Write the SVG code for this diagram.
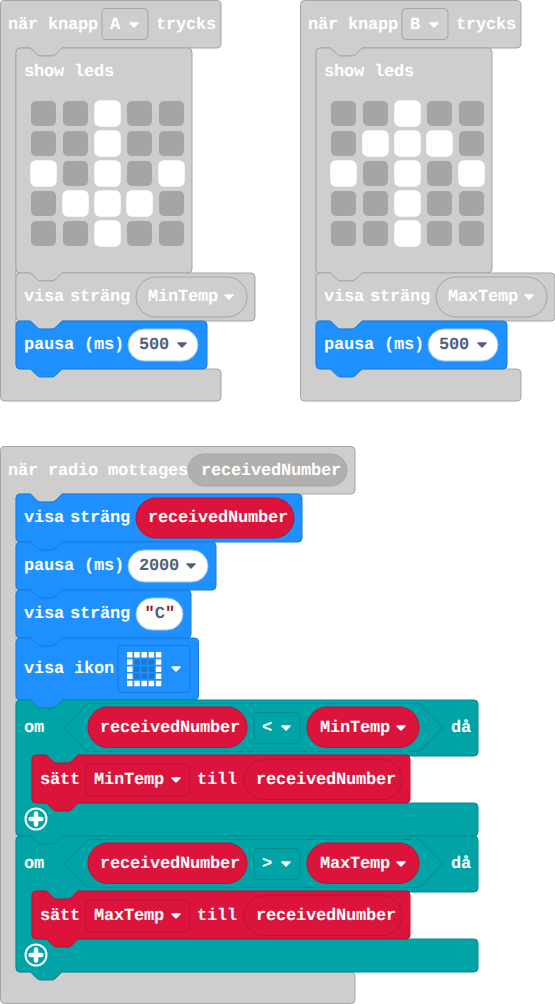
<svg xmlns="http://www.w3.org/2000/svg" width="555" height="1004" viewBox="0 0 555 1004">
<style>
text{font-family:"Liberation Mono",monospace;font-weight:700;font-size:17px;letter-spacing:-.2px;fill:#fff;text-rendering:geometricPrecision}
.g{fill:#cecece;stroke:#a5a5a5}
.gp{fill:#b0b0b0;stroke:#a5a5a5}
.b{fill:#1e90ff;stroke:#1a7ad9}
.t{fill:#00a4a6;stroke:#008b8d}
.r{fill:#dc143c;stroke:#bb1133}
.w{fill:#fff;stroke:#8fc4f8}
text.d{fill:#575e75}
text.q{fill:#a31515}
.ad{fill:#575e75;stroke:#575e75}
.aw{fill:#fff;stroke:#fff}
.off{fill:#a5a5a5}
.on{fill:#fff;stroke:#fff}
.mi{fill:#1a78d6}
.mo{fill:#fff}
</style>
<defs>
<path id="arrow" d="M1 1h8l-4 4z" stroke-width="1.500" stroke-linejoin="round"/>
<rect id="off" class="off" width="25" height="25" rx="5"/>
<rect id="on" class="on" width="25" height="25" rx="5" stroke-width="1.500"/>
<g id="plus">
<circle r="10.500" fill="#00a4a6" stroke="#fff" stroke-width="2"/>
<path d="M0-5.500V5.500M-5.500 0H5.500" stroke="#fff" stroke-width="4.500" stroke-linecap="round"/>
</g>
<g id="ledsA">
<use href="#off" x="31" y="101"/><use href="#off" x="63" y="101"/><use href="#on" x="95" y="101"/><use href="#off" x="127" y="101"/><use href="#off" x="159" y="101"/>
<use href="#off" x="31" y="131"/><use href="#off" x="63" y="131"/><use href="#on" x="95" y="131"/><use href="#off" x="127" y="131"/><use href="#off" x="159" y="131"/>
<use href="#on" x="31" y="161"/><use href="#off" x="63" y="161"/><use href="#on" x="95" y="161"/><use href="#off" x="127" y="161"/><use href="#on" x="159" y="161"/>
<use href="#off" x="31" y="191"/><use href="#on" x="63" y="191"/><use href="#on" x="95" y="191"/><use href="#on" x="127" y="191"/><use href="#off" x="159" y="191"/>
<use href="#off" x="31" y="221"/><use href="#off" x="63" y="221"/><use href="#on" x="95" y="221"/><use href="#off" x="127" y="221"/><use href="#off" x="159" y="221"/>
</g>
<g id="ledsB">
<use href="#off" x="31" y="101"/><use href="#off" x="63" y="101"/><use href="#on" x="95" y="101"/><use href="#off" x="127" y="101"/><use href="#off" x="159" y="101"/>
<use href="#off" x="31" y="131"/><use href="#on" x="63" y="131"/><use href="#on" x="95" y="131"/><use href="#on" x="127" y="131"/><use href="#off" x="159" y="131"/>
<use href="#on" x="31" y="161"/><use href="#off" x="63" y="161"/><use href="#on" x="95" y="161"/><use href="#off" x="127" y="161"/><use href="#on" x="159" y="161"/>
<use href="#off" x="31" y="191"/><use href="#off" x="63" y="191"/><use href="#on" x="95" y="191"/><use href="#off" x="127" y="191"/><use href="#off" x="159" y="191"/>
<use href="#off" x="31" y="221"/><use href="#off" x="63" y="221"/><use href="#on" x="95" y="221"/><use href="#off" x="127" y="221"/><use href="#off" x="159" y="221"/>
</g>
</defs>
<g id="connectors"></g>

<g id="event-a">
<path class="g" d="M.5 4.500a4 4 0 0 1 4-4H217a4 4 0 0 1 4 4V44a4 4 0 0 1-4 4H62l-6 6q-2 2-4 2H40.500q-2 0-4-2l-6-6H20a4 4 0 0 0-4 4V365a4 4 0 0 0 4 4H217a4 4 0 0 1 4 4V397a4 4 0 0 1-4 4H4.500a4 4 0 0 1-4-4z"/>
<text x="8" y="29">när knapp</text>
<rect class="g" x="102" y="8.500" width="46" height="31" rx="4"/>
<text x="110" y="29">A</text>
<use href="#arrow" class="aw" x="129" y="22"/>
<text x="156" y="29">trycks</text>
</g>
<g id="leds-a">
<path class="g" d="M16 52a4 4 0 0 1 4-4h10.500l6 6q2 2 4 2H52q2 0 4-2l6-6H188a4 4 0 0 1 4 4V269a4 4 0 0 1-4 4H62l-6 6q-2 2-4 2H40.500q-2 0-4-2l-6-6H20a4 4 0 0 1-4-4z"/>
<text x="24" y="76">show leds</text>
<use href="#ledsA"/>
</g>
<g id="show-a">
<path class="g" d="M16 277a4 4 0 0 1 4-4h10.500l6 6q2 2 4 2H52q2 0 4-2l6-6H251a4 4 0 0 1 4 4V317a4 4 0 0 1-4 4H62l-6 6q-2 2-4 2H40.500q-2 0-4-2l-6-6H20a4 4 0 0 1-4-4z"/>
<text x="24" y="301">visa</text><text x="70" y="301">sträng</text>
<rect class="g" x="136" y="277" width="111" height="40" rx="20"/>
<text x="148" y="301">MinTemp</text>
<use href="#arrow" class="aw" x="224" y="294"/>
</g>
<g id="pause-a">
<path class="b" d="M16 325a4 4 0 0 1 4-4h10.500l6 6q2 2 4 2H52q2 0 4-2l6-6H203a4 4 0 0 1 4 4V365a4 4 0 0 1-4 4H62l-6 6q-2 2-4 2H40.500q-2 0-4-2l-6-6H20a4 4 0 0 1-4-4z"/>
<text x="24" y="349">pausa (ms)</text>
<rect class="w" x="128" y="329" width="70" height="32" rx="16"/>
<text class="d" x="139" y="349">500</text>
<use href="#arrow" class="ad" x="177" y="342"/>
</g>

<g id="event-b">
<path class="g" d="M300.500 4.500a4 4 0 0 1 4-4H517a4 4 0 0 1 4 4V44a4 4 0 0 1-4 4H362l-6 6q-2 2-4 2H340.500q-2 0-4-2l-6-6H320a4 4 0 0 0-4 4V365a4 4 0 0 0 4 4H517a4 4 0 0 1 4 4V397a4 4 0 0 1-4 4H304.500a4 4 0 0 1-4-4z"/>
<text x="308" y="29">när knapp</text>
<rect class="g" x="402" y="8.500" width="46" height="31" rx="4"/>
<text x="410" y="29">B</text>
<use href="#arrow" class="aw" x="429" y="22"/>
<text x="456" y="29">trycks</text>
</g>
<g id="leds-b">
<path class="g" d="M316 52a4 4 0 0 1 4-4h10.500l6 6q2 2 4 2H352q2 0 4-2l6-6H488a4 4 0 0 1 4 4V269a4 4 0 0 1-4 4H362l-6 6q-2 2-4 2H340.500q-2 0-4-2l-6-6H320a4 4 0 0 1-4-4z"/>
<text x="324" y="76">show leds</text>
<use href="#ledsB" x="300"/>
</g>
<g id="show-b">
<path class="g" d="M316 277a4 4 0 0 1 4-4h10.500l6 6q2 2 4 2H352q2 0 4-2l6-6H551a4 4 0 0 1 4 4V317a4 4 0 0 1-4 4H362l-6 6q-2 2-4 2H340.500q-2 0-4-2l-6-6H320a4 4 0 0 1-4-4z"/>
<text x="324" y="301">visa</text><text x="370" y="301">sträng</text>
<rect class="g" x="436" y="277" width="111" height="40" rx="20"/>
<text x="448" y="301">MaxTemp</text>
<use href="#arrow" class="aw" x="524" y="294"/>
</g>
<g id="pause-b">
<path class="b" d="M316 325a4 4 0 0 1 4-4h10.500l6 6q2 2 4 2H352q2 0 4-2l6-6H503a4 4 0 0 1 4 4V365a4 4 0 0 1-4 4H362l-6 6q-2 2-4 2H340.500q-2 0-4-2l-6-6H320a4 4 0 0 1-4-4z"/>
<text x="324" y="349">pausa (ms)</text>
<rect class="w" x="428" y="329" width="70" height="32" rx="16"/>
<text class="d" x="439" y="349">500</text>
<use href="#arrow" class="ad" x="477" y="342"/>
</g>

<g id="event-radio">
<path class="g" d="M.5 450.500a4 4 0 0 1 4-4H351a4 4 0 0 1 4 4V490a4 4 0 0 1-4 4H62l-6 6q-2 2-4 2H40.500q-2 0-4-2l-6-6H20a4 4 0 0 0-4 4V968a4 4 0 0 0 4 4H351a4 4 0 0 1 4 4V999.500a4 4 0 0 1-4 4H4.500a4 4 0 0 1-4-4z"/>
<text x="8" y="475">när radio mottages</text>
<rect class="gp" x="188" y="454" width="159" height="32" rx="16"/>
<text x="201" y="475">receivedNumber</text>
</g>
<g id="show-number">
<path class="b" d="M16 498a4 4 0 0 1 4-4h10.500l6 6q2 2 4 2H52q2 0 4-2l6-6H298a4 4 0 0 1 4 4V538a4 4 0 0 1-4 4H62l-6 6q-2 2-4 2H40.500q-2 0-4-2l-6-6H20a4 4 0 0 1-4-4z"/>
<text x="24" y="522">visa</text><text x="70" y="522">sträng</text>
<rect class="r" x="136" y="498" width="158" height="40" rx="20"/>
<text x="148" y="522">receivedNumber</text>
</g>
<g id="pause-2000">
<path class="b" d="M16 546a4 4 0 0 1 4-4h10.500l6 6q2 2 4 2H52q2 0 4-2l6-6H212a4 4 0 0 1 4 4V586a4 4 0 0 1-4 4H62l-6 6q-2 2-4 2H40.500q-2 0-4-2l-6-6H20a4 4 0 0 1-4-4z"/>
<text x="24" y="570">pausa (ms)</text>
<rect class="w" x="128" y="550" width="80" height="32" rx="16"/>
<text class="d" x="139" y="570">2000</text>
<use href="#arrow" class="ad" x="186" y="563"/>
</g>
<g id="show-c">
<path class="b" d="M16 594a4 4 0 0 1 4-4h10.500l6 6q2 2 4 2H52q2 0 4-2l6-6H187a4 4 0 0 1 4 4V634a4 4 0 0 1-4 4H62l-6 6q-2 2-4 2H40.500q-2 0-4-2l-6-6H20a4 4 0 0 1-4-4z"/>
<text x="24" y="618">visa</text><text x="70" y="618">sträng</text>
<rect class="w" x="136" y="598" width="47" height="32" rx="16"/>
<text class="q" x="144.500" y="618">"</text><text class="d" x="154.700" y="618">C</text><text class="q" x="165" y="618">"</text>
</g>
<g id="show-icon">
<path class="b" d="M16 642a4 4 0 0 1 4-4h10.500l6 6q2 2 4 2H52q2 0 4-2l6-6H194.500a4 4 0 0 1 4 4V696a4 4 0 0 1-4 4H62l-6 6q-2 2-4 2H40.500q-2 0-4-2l-6-6H20a4 4 0 0 1-4-4z"/>
<text x="24" y="673">visa ikon</text>
<rect class="b" x="118" y="645.500" width="72" height="47" rx="4"/>
<path class="mo" d="M127 652h5.500v5.500h-5.500zM134.200 652h5.500v5.500h-5.500zM141.400 652h5.500v5.500h-5.500zM148.600 652h5.500v5.500h-5.500zM155.800 652h5.500v5.500h-5.500zM127 659.200h5.500v5.500h-5.500zM155.800 659.200h5.500v5.500h-5.500zM127 666.400h5.500v5.500h-5.500zM155.800 666.400h5.500v5.500h-5.500zM127 673.600h5.500v5.500h-5.500zM155.800 673.600h5.500v5.500h-5.500zM127 680.800h5.500v5.500h-5.500zM134.200 680.800h5.500v5.500h-5.500zM141.400 680.800h5.500v5.500h-5.500zM148.600 680.800h5.500v5.500h-5.500zM155.800 680.800h5.500v5.500h-5.500z"/>
<path class="mi" d="M134.200 659.200h5.500v5.500h-5.500zM141.400 659.200h5.500v5.500h-5.500zM148.600 659.200h5.500v5.500h-5.500zM134.200 666.400h5.500v5.500h-5.500zM141.400 666.400h5.500v5.500h-5.500zM148.600 666.400h5.500v5.500h-5.500zM134.200 673.600h5.500v5.500h-5.500zM141.400 673.600h5.500v5.500h-5.500zM148.600 673.600h5.500v5.500h-5.500z"/>
<use href="#arrow" class="aw" x="171" y="666"/>
</g>

<g id="if-min">
<path class="t" d="M16 704a4 4 0 0 1 4-4h10.500l6 6q2 2 4 2H52q2 0 4-2l6-6H474a4 4 0 0 1 4 4V752a4 4 0 0 1-4 4H78l-6 6q-2 2-4 2H56.500q-2 0-4-2l-6-6H36a4 4 0 0 0-4 4V799a4 4 0 0 0 4 4H474a4 4 0 0 1 4 4V832a4 4 0 0 1-4 4H62l-6 6q-2 2-4 2H40.500q-2 0-4-2l-6-6H20a4 4 0 0 1-4-4z"/>
<text x="24" y="732">om</text>
<path class="t" d="M64 727.500L88 703.500H419.500L443 727.500L419.500 751.500H88z"/>
<rect class="r" x="88" y="707" width="159" height="40.500" rx="20"/>
<text x="100" y="732">receivedNumber</text>
<rect class="t" x="254" y="712.500" width="46" height="31" rx="4"/>
<text x="262" y="732">&lt;</text>
<use href="#arrow" class="aw" x="281" y="725"/>
<rect class="r" x="307" y="707" width="112" height="40.500" rx="20"/>
<text x="320" y="732">MinTemp</text>
<use href="#arrow" class="aw" x="396" y="725"/>
<text x="451" y="732">då</text>
<use href="#plus" x="36" y="819"/>
</g>
<g id="set-min">
<path class="r" d="M32 759a4 4 0 0 1 4-4h10.500l6 6q2 2 4 2H68q2 0 4-2l6-6H406a4 4 0 0 1 4 4V799a4 4 0 0 1-4 4H78l-6 6q-2 2-4 2H56.500q-2 0-4-2l-6-6H36a4 4 0 0 1-4-4z"/>
<text x="40" y="784">sätt</text>
<rect class="r" x="86" y="764" width="104" height="32" rx="4"/>
<text x="94" y="784">MinTemp</text>
<use href="#arrow" class="aw" x="171" y="777"/>
<text x="197" y="784">till</text>
<rect class="r" x="244" y="759.500" width="158" height="40" rx="20"/>
<text x="256" y="784">receivedNumber</text>
</g>

<g id="if-max">
<path class="t" d="M16 840a4 4 0 0 1 4-4h10.500l6 6q2 2 4 2H52q2 0 4-2l6-6H474a4 4 0 0 1 4 4V888a4 4 0 0 1-4 4H78l-6 6q-2 2-4 2H56.500q-2 0-4-2l-6-6H36a4 4 0 0 0-4 4V935a4 4 0 0 0 4 4H474a4 4 0 0 1 4 4V968a4 4 0 0 1-4 4H62l-6 6q-2 2-4 2H40.500q-2 0-4-2l-6-6H20a4 4 0 0 1-4-4z"/>
<text x="24" y="868">om</text>
<path class="t" d="M64 863.500L88 839.500H419.500L443 863.500L419.500 887.500H88z"/>
<rect class="r" x="88" y="843" width="159" height="40.500" rx="20"/>
<text x="100" y="868">receivedNumber</text>
<rect class="t" x="254" y="848.500" width="46" height="31" rx="4"/>
<text x="262" y="868">&gt;</text>
<use href="#arrow" class="aw" x="281" y="861"/>
<rect class="r" x="307" y="843" width="112" height="40.500" rx="20"/>
<text x="320" y="868">MaxTemp</text>
<use href="#arrow" class="aw" x="396" y="861"/>
<text x="451" y="868">då</text>
<use href="#plus" x="36" y="955"/>
</g>
<g id="set-max">
<path class="r" d="M32 895a4 4 0 0 1 4-4h10.500l6 6q2 2 4 2H68q2 0 4-2l6-6H406a4 4 0 0 1 4 4V935a4 4 0 0 1-4 4H78l-6 6q-2 2-4 2H56.500q-2 0-4-2l-6-6H36a4 4 0 0 1-4-4z"/>
<text x="40" y="920">sätt</text>
<rect class="r" x="86" y="900" width="104" height="32" rx="4"/>
<text x="94" y="920">MaxTemp</text>
<use href="#arrow" class="aw" x="171" y="913"/>
<text x="197" y="920">till</text>
<rect class="r" x="244" y="895.500" width="158" height="40" rx="20"/>
<text x="256" y="920">receivedNumber</text>
</g>
</svg>
